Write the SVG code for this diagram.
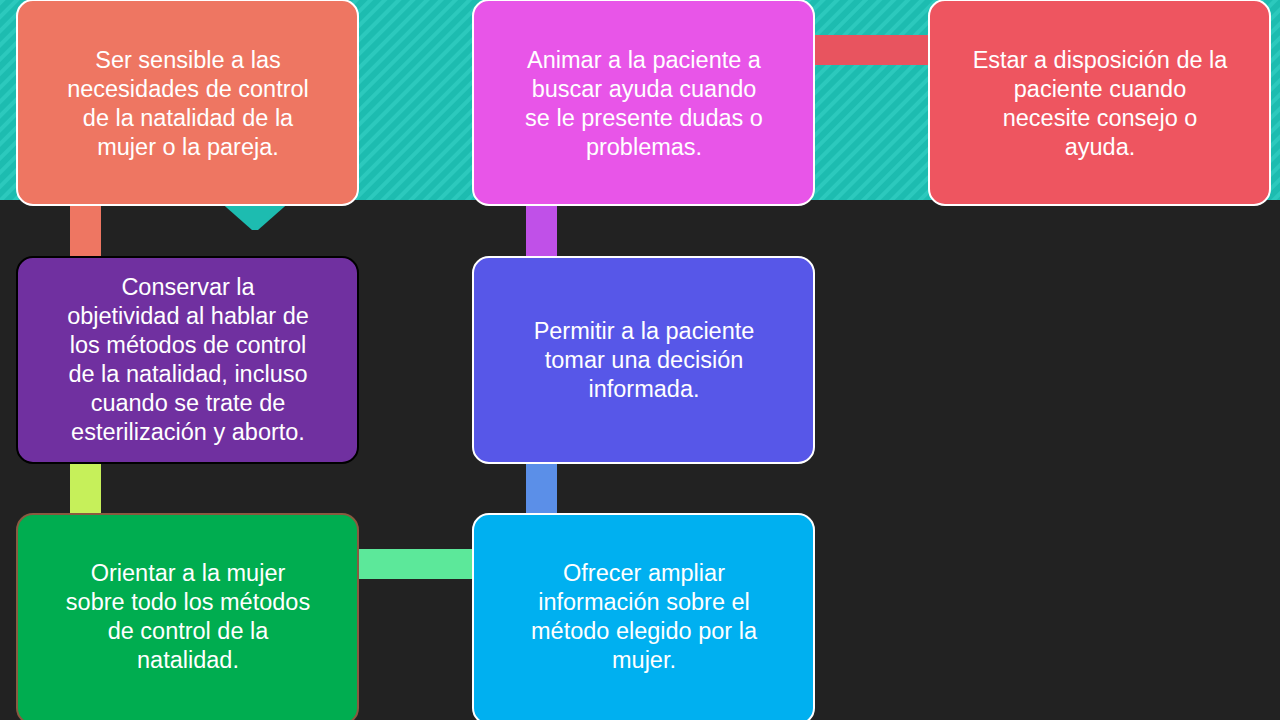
<svg xmlns="http://www.w3.org/2000/svg" width="1280" height="720" viewBox="0 0 1280 720">
<style>
.n{stroke:#fff;stroke-width:2}
.t{font-family:"Liberation Sans",Arial,sans-serif;font-size:23.5px;fill:#fff;text-anchor:middle}
</style>
<defs>
<pattern id="st" width="10" height="10" patternUnits="userSpaceOnUse" patternTransform="rotate(45)">
<rect width="10" height="10" fill="#1dbcb0"/><rect width="4" height="10" fill="#2cc9bd"/>
</pattern>
</defs>
<rect width="1280" height="720" fill="#222"/>
<rect width="1280" height="200" fill="url(#st)"/>
<polygon points="218,200 292,200 258,230 252,230" fill="#1dbcb0"/>
<g id="connectors">
<rect x="70" y="200" width="31" height="60" fill="#ee7662"/>
<rect x="70" y="460" width="31" height="58" fill="#c6f05a"/>
<rect x="355" y="549" width="122" height="30" fill="#5ce89a"/>
<rect x="526" y="460" width="31" height="58" fill="#5b8fe8"/>
<rect x="526" y="202" width="31" height="58" fill="#c050e8"/>
<rect x="810" y="35" width="122" height="30" fill="#e8545f"/>
</g>
<g id="n1"><rect class="n" x="17" y="0" width="341" height="205" rx="16" fill="#ee7662"/>
<text class="t" x="188" y="68">Ser sensible a las</text><text class="t" x="188" y="97">necesidades de control</text><text class="t" x="188" y="126">de la natalidad de la</text><text class="t" x="188" y="155">mujer o la pareja.</text></g>
<g id="n2"><rect x="17" y="257" width="341" height="206" rx="16" fill="#7030a0" stroke="#000" stroke-width="2"/>
<text class="t" x="188" y="295">Conservar la</text><text class="t" x="188" y="324">objetividad al hablar de</text><text class="t" x="188" y="353">los métodos de control</text><text class="t" x="188" y="382">de la natalidad, incluso</text><text class="t" x="188" y="411">cuando se trate de</text><text class="t" x="188" y="440">esterilización y aborto.</text></g>
<g id="n3"><rect x="17" y="514" width="341" height="210" rx="16" fill="#00ad50" stroke="#8a5a40" stroke-width="2"/>
<text class="t" x="188" y="581">Orientar a la mujer</text><text class="t" x="188" y="610">sobre todo los métodos</text><text class="t" x="188" y="639">de control de la</text><text class="t" x="188" y="668">natalidad.</text></g>
<g id="n4"><rect class="n" x="473" y="514" width="341" height="210" rx="16" fill="#00b0f0"/>
<text class="t" x="644" y="581">Ofrecer ampliar</text><text class="t" x="644" y="610">información sobre el</text><text class="t" x="644" y="639">método elegido por la</text><text class="t" x="644" y="668">mujer.</text></g>
<g id="n5"><rect class="n" x="473" y="257" width="341" height="206" rx="16" fill="#5757e8"/>
<text class="t" x="644" y="339">Permitir a la paciente</text><text class="t" x="644" y="368">tomar una decisión</text><text class="t" x="644" y="397">informada.</text></g>
<g id="n6"><rect class="n" x="473" y="0" width="341" height="205" rx="16" fill="#e855e8"/>
<text class="t" x="644" y="68">Animar a la paciente a</text><text class="t" x="644" y="97">buscar ayuda cuando</text><text class="t" x="644" y="126">se le presente dudas o</text><text class="t" x="644" y="155">problemas.</text></g>
<g id="n7"><rect class="n" x="929" y="0" width="341" height="205" rx="16" fill="#ee5560"/>
<text class="t" x="1100" y="68">Estar a disposición de la</text><text class="t" x="1100" y="97">paciente cuando</text><text class="t" x="1100" y="126">necesite consejo o</text><text class="t" x="1100" y="155">ayuda.</text></g>
</svg>
